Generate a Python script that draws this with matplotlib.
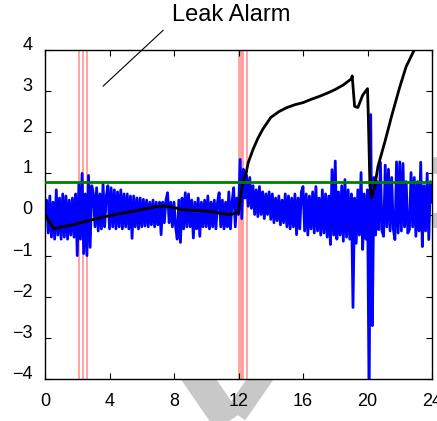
import numpy as np
import matplotlib
matplotlib.use("Agg")
import matplotlib.pyplot as plt
from matplotlib.lines import Line2D
from matplotlib.transforms import ScaledTranslation

plt.rcParams['font.family'] = ['Liberation Sans', 'DejaVu Sans']

# Raw sensor deviation, 10 samples per hour (hour 0 .. hour 24)
sensor_vals = (
    [0.0, 0.35, -0.45, 0.45, -0.55, 0.3, -0.6, 0.6, -0.5, 0.4]          # 0
    + [-0.6, 0.5, -0.55, 0.45, -0.6, 0.35, -0.5, 0.4, -0.55, 0.5]       # 1
    + [-1.0, 0.75, -0.6, 1.0, -0.95, 0.5, -1.0, 0.95, -0.8, 0.7]        # 2
    + [0.5, -0.3, 0.65, -0.4, 0.5, -0.35, 0.75, -0.3, 0.45, 0.7]        # 3
    + [-0.35, 0.65, -0.3, 0.6, -0.35, 0.55, -0.3, 0.6, -0.35, 0.5]      # 4
    + [-0.3, 0.5, -0.35, 0.45, -0.58, 0.45, -0.3, 0.4, -0.35, 0.4]      # 5
    + [-0.3, 0.37, -0.28, 0.35, -0.3, 0.3, -0.25, 0.35, -0.3, 0.3]      # 6
    + [-0.25, 0.3, -0.49, 0.3, -0.2, 0.35, 0.53, -0.2, 0.3, -0.3]       # 7
    + [0.3, -0.3, -0.6, 0.35, -0.68, 0.4, -0.35, 0.53, -0.3, 0.5]       # 8
    + [-0.3, 0.35, -0.57, 0.3, -0.35, 0.4, -0.53, 0.3, -0.3, 0.35]      # 9
    + [-0.3, 0.45, -0.35, 0.3, -0.3, 0.35, -0.35, 0.3, 0.53, -0.3]      # 10
    + [0.35, -0.35, 0.3, -0.3, 0.55, -0.35, 0.3, 0.65, -0.3, 0.4]       # 11
    + [0.0, 1.34, -0.1, 1.1, 0.4, 0.95, 0.2, 0.9, 0.15, 0.7]            # 12
    + [0.0, 0.6, -0.05, 0.68, 0.0, 0.55, -0.1, 0.5, 0.0, 0.55]          # 13
    + [-0.12, 0.5, -0.2, 0.4, -0.15, 0.45, -0.25, 0.35, -0.2, 0.5]      # 14
    + [-0.3, 0.45, -0.35, 0.4, -0.3, 0.5, -0.49, 0.4, -0.35, 0.55]      # 15
    + [0.68, -0.4, 0.5, -0.5, 0.45, -0.35, 0.55, -0.45, 0.68, -0.4]     # 16
    + [0.4, -0.5, 0.6, -0.45, 0.5, -0.55, 0.45, -0.73, 1.09, -0.5]      # 17
    + [1.3, -0.6, 0.55, -0.5, 0.7, -0.65, 0.85, -0.55, 0.6, -0.6]       # 18
    + [0.5, -2.26, 0.4, -0.7, 0.6, -0.5, 1.02, -0.85, 0.5, -0.6]        # 19
    + [0.6, -4.6, 2.43, -2.7, 0.9, -0.5, 0.8, -0.37, 1.27, -0.4]        # 20
    + [-0.53, 1.2, -0.3, 1.1, -0.4, 0.9, -0.35, -0.61, 1.28, -0.45]     # 21
    + [1.28, -0.4, 1.24, -0.3, 0.8, -0.45, -0.37, 1.02, -0.3, 0.9]      # 22
    + [-0.53, 0.8, -0.4, 1.27, -0.78, 0.7, -0.4, 1.0, -0.61, 0.8]       # 23
    + [0.3]                                                             # 24
)
sensor_t = np.linspace(0, 24, len(sensor_vals))

# Cumulative (integrated) deviation
cum_t = [0, 0.55, 1, 1.5, 2, 2.5, 3, 3.5, 4, 4.5, 5, 5.5, 6, 6.5, 7, 7.5, 8,
         8.5, 9, 9.5, 10, 10.5, 11, 11.5, 12.0, 12.15, 12.3, 12.45, 12.6,
         12.9, 13.2, 13.5, 14, 14.5, 15, 15.5, 16, 16.5, 17, 17.5, 18, 18.5,
         19.0, 19.05, 19.2, 19.4, 19.7, 20.0, 20.05, 20.15, 20.25, 20.45,
         20.65, 21.1, 21.5, 22.0, 22.4, 22.9, 23.5, 24]
cum_vals = [0.0, -0.35, -0.3, -0.27, -0.22, -0.17, -0.12, -0.07, -0.03, 0.01,
            0.05, 0.08, 0.12, 0.16, 0.2, 0.2, 0.17, 0.12, 0.1, 0.1, 0.08,
            0.06, 0.02, 0.0, 0.05, 0.53, 0.8, 0.97, 1.26, 1.58, 1.85, 2.07,
            2.36, 2.5, 2.6, 2.67, 2.72, 2.8, 2.87, 2.95, 3.04, 3.15, 3.3,
            3.37, 2.63, 2.6, 2.9, 3.06, 2.4, 0.7, 0.41, 0.69, 1.17, 1.8, 2.4,
            3.1, 3.6, 4.0, 4.6, 5.2]

threshold = 0.78
alarm_times = [2.11, 2.38, 2.63, 12.05, 12.15, 12.22, 12.3, 12.52]

x_ticks = [0, 4, 8, 12, 16, 20, 24]
y_ticks = [-4, -3, -2, -1, 0, 1, 2, 3, 4]

W, H = 437, 421
fig = plt.figure(figsize=(W / 100, H / 100), dpi=100)
fig.patch.set_facecolor('white')

# Light grey diagonal strokes in the page background
def px(xp, yp):
    return [v / W for v in xp], [1 - v / H for v in yp]

for xs, ys, lw in [
    ([175, 232], [345, 428], 21),
    ([268, 236], [368, 414], 16),
    ([420, 450], [165, 165], 12),
    ([420, 450], [220, 220], 11),
]:
    fx, fy = px(xs, ys)
    fig.add_artist(Line2D(fx, fy, color='#c8c8c8', lw=lw,
                          solid_capstyle='butt', transform=fig.transFigure,
                          zorder=-5))

ax = fig.add_axes([45 / W, 1 - 379 / H, (432 - 45) / W, (379 - 50) / H])
ax.set_facecolor('white')

for t in alarm_times:
    ax.axvline(t, color='#ff9d9d', lw=1.3, zorder=1)

ax.plot(sensor_t, sensor_vals, color='#0000ff', lw=2.0, zorder=2)
ax.plot(cum_t, cum_vals, color='black', lw=2.0, zorder=3)
ax.axhline(threshold, color='#008000', lw=2.0, zorder=4)

ax.set_xlim(0, 24)
ax.set_ylim(-4, 4)
ax.set_xticks(x_ticks)
ax.set_yticks(y_ticks)
ax.set_xticklabels([str(v) for v in x_ticks])
ax.set_yticklabels([str(v).replace('-', '\u2212') for v in y_ticks])
ax.tick_params(direction='in', length=4, width=0.8, top=True, right=True,
               labelsize=13, pad=9)
ax.tick_params(axis='x', pad=10)
for lab in ax.get_yticklabels():
    lab.set_transform(lab.get_transform()
                      + ScaledTranslation(0, 0.065, fig.dpi_scale_trans))
for sp in ax.spines.values():
    sp.set_linewidth(1.0)

ax.annotate('', xy=(3.6, 3.12), xytext=(7.33, 4.48),
            arrowprops=dict(arrowstyle='-', lw=0.8, color='black',
                            shrinkA=0, shrinkB=0),
            annotation_clip=False)
ax.text(7.85, 4.85, 'Leak Alarm', fontsize=17, ha='left', va='center',
        clip_on=False)

fig.savefig('out.png', dpi=100)
